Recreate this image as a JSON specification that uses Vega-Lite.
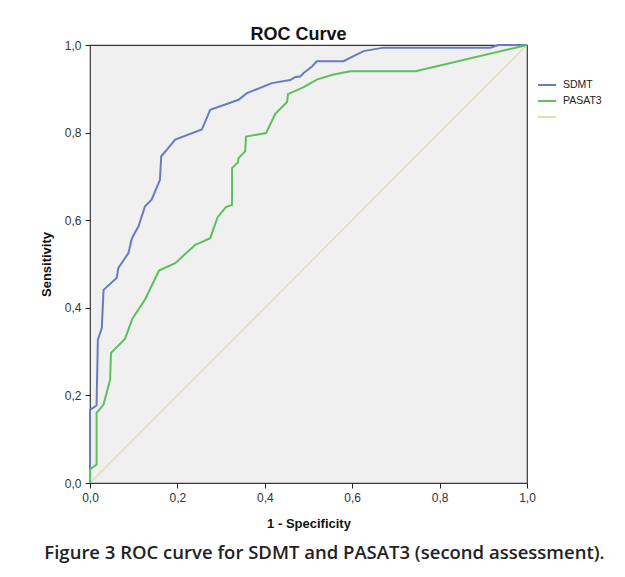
{
  "$schema": "https://vega.github.io/schema/vega-lite/v6.json",
  "width": 437,
  "height": 438,
  "autosize": "none",
  "padding": {"left": 90, "top": 45, "right": 98, "bottom": 94},
  "background": "white",
  "title": {
    "text": "Figure 3 ROC curve for SDMT and PASAT3 (second assessment).",
    "orient": "bottom",
    "anchor": "middle",
    "font": "Open Sans",
    "fontSize": 18.5,
    "fontWeight": 600,
    "color": "#222",
    "offset": 14,
    "dx": 16
  },
  "config": {
    "view": {"fill": "#f0f0f0", "stroke": "#3a3a3a", "strokeWidth": 1.2},
    "axis": {
      "labelFont": "Liberation Sans",
      "titleFont": "Liberation Sans",
      "labelFontSize": 12,
      "labelColor": "#333",
      "titleColor": "#111",
      "domainColor": "#222",
      "tickColor": "#222",
      "tickSize": 5,
      "grid": false,
      "labelFlush": false
    },
    "legend": {"labelFont": "Liberation Sans"}
  },
  "data": {
    "values": [
      {"test": "SDMT", "step": 0, "fpr": 0, "tpr": 0},
      {"test": "SDMT", "step": 1, "fpr": 0, "tpr": 0.167},
      {"test": "SDMT", "step": 2, "fpr": 0.015, "tpr": 0.177},
      {"test": "SDMT", "step": 3, "fpr": 0.018, "tpr": 0.327},
      {"test": "SDMT", "step": 4, "fpr": 0.027, "tpr": 0.354},
      {"test": "SDMT", "step": 5, "fpr": 0.031, "tpr": 0.441},
      {"test": "SDMT", "step": 6, "fpr": 0.061, "tpr": 0.468},
      {"test": "SDMT", "step": 7, "fpr": 0.065, "tpr": 0.491},
      {"test": "SDMT", "step": 8, "fpr": 0.088, "tpr": 0.525},
      {"test": "SDMT", "step": 9, "fpr": 0.095, "tpr": 0.555},
      {"test": "SDMT", "step": 10, "fpr": 0.098, "tpr": 0.563},
      {"test": "SDMT", "step": 11, "fpr": 0.111, "tpr": 0.586},
      {"test": "SDMT", "step": 12, "fpr": 0.126, "tpr": 0.632},
      {"test": "SDMT", "step": 13, "fpr": 0.141, "tpr": 0.647},
      {"test": "SDMT", "step": 14, "fpr": 0.160, "tpr": 0.692},
      {"test": "SDMT", "step": 15, "fpr": 0.163, "tpr": 0.746},
      {"test": "SDMT", "step": 16, "fpr": 0.176, "tpr": 0.761},
      {"test": "SDMT", "step": 17, "fpr": 0.195, "tpr": 0.784},
      {"test": "SDMT", "step": 18, "fpr": 0.256, "tpr": 0.807},
      {"test": "SDMT", "step": 19, "fpr": 0.275, "tpr": 0.852},
      {"test": "SDMT", "step": 20, "fpr": 0.340, "tpr": 0.875},
      {"test": "SDMT", "step": 21, "fpr": 0.359, "tpr": 0.890},
      {"test": "SDMT", "step": 22, "fpr": 0.416, "tpr": 0.913},
      {"test": "SDMT", "step": 23, "fpr": 0.458, "tpr": 0.920},
      {"test": "SDMT", "step": 24, "fpr": 0.470, "tpr": 0.927},
      {"test": "SDMT", "step": 25, "fpr": 0.481, "tpr": 0.928},
      {"test": "SDMT", "step": 26, "fpr": 0.489, "tpr": 0.936},
      {"test": "SDMT", "step": 27, "fpr": 0.508, "tpr": 0.951},
      {"test": "SDMT", "step": 28, "fpr": 0.519, "tpr": 0.963},
      {"test": "SDMT", "step": 29, "fpr": 0.580, "tpr": 0.963},
      {"test": "SDMT", "step": 30, "fpr": 0.626, "tpr": 0.986},
      {"test": "SDMT", "step": 31, "fpr": 0.672, "tpr": 0.994},
      {"test": "SDMT", "step": 32, "fpr": 0.916, "tpr": 0.994},
      {"test": "SDMT", "step": 33, "fpr": 0.935, "tpr": 1.0},
      {"test": "SDMT", "step": 34, "fpr": 1.0, "tpr": 1.0},
      {"test": "PASAT3", "step": 0, "fpr": 0, "tpr": 0},
      {"test": "PASAT3", "step": 1, "fpr": 0, "tpr": 0.031},
      {"test": "PASAT3", "step": 2, "fpr": 0.015, "tpr": 0.042},
      {"test": "PASAT3", "step": 3, "fpr": 0.015, "tpr": 0.160},
      {"test": "PASAT3", "step": 4, "fpr": 0.031, "tpr": 0.179},
      {"test": "PASAT3", "step": 5, "fpr": 0.046, "tpr": 0.236},
      {"test": "PASAT3", "step": 6, "fpr": 0.048, "tpr": 0.297},
      {"test": "PASAT3", "step": 7, "fpr": 0.080, "tpr": 0.329},
      {"test": "PASAT3", "step": 8, "fpr": 0.097, "tpr": 0.375},
      {"test": "PASAT3", "step": 9, "fpr": 0.126, "tpr": 0.419},
      {"test": "PASAT3", "step": 10, "fpr": 0.158, "tpr": 0.485},
      {"test": "PASAT3", "step": 11, "fpr": 0.195, "tpr": 0.502},
      {"test": "PASAT3", "step": 12, "fpr": 0.241, "tpr": 0.544},
      {"test": "PASAT3", "step": 13, "fpr": 0.275, "tpr": 0.559},
      {"test": "PASAT3", "step": 14, "fpr": 0.292, "tpr": 0.607},
      {"test": "PASAT3", "step": 15, "fpr": 0.311, "tpr": 0.630},
      {"test": "PASAT3", "step": 16, "fpr": 0.325, "tpr": 0.635},
      {"test": "PASAT3", "step": 17, "fpr": 0.325, "tpr": 0.719},
      {"test": "PASAT3", "step": 18, "fpr": 0.338, "tpr": 0.731},
      {"test": "PASAT3", "step": 19, "fpr": 0.340, "tpr": 0.742},
      {"test": "PASAT3", "step": 20, "fpr": 0.355, "tpr": 0.757},
      {"test": "PASAT3", "step": 21, "fpr": 0.357, "tpr": 0.791},
      {"test": "PASAT3", "step": 22, "fpr": 0.403, "tpr": 0.799},
      {"test": "PASAT3", "step": 23, "fpr": 0.424, "tpr": 0.843},
      {"test": "PASAT3", "step": 24, "fpr": 0.451, "tpr": 0.870},
      {"test": "PASAT3", "step": 25, "fpr": 0.453, "tpr": 0.888},
      {"test": "PASAT3", "step": 26, "fpr": 0.489, "tpr": 0.904},
      {"test": "PASAT3", "step": 27, "fpr": 0.519, "tpr": 0.921},
      {"test": "PASAT3", "step": 28, "fpr": 0.555, "tpr": 0.932},
      {"test": "PASAT3", "step": 29, "fpr": 0.596, "tpr": 0.940},
      {"test": "PASAT3", "step": 30, "fpr": 0.745, "tpr": 0.940},
      {"test": "PASAT3", "step": 31, "fpr": 1.0, "tpr": 1.0},
      {"test": " ", "step": 0, "fpr": 0, "tpr": 0},
      {"test": " ", "step": 1, "fpr": 1, "tpr": 1}
    ]
  },
  "layer": [
    {
      "transform": [{"filter": "datum.test === ' '"}],
      "mark": {"type": "line", "strokeWidth": 1.5, "clip": true},
      "encoding": {
        "x": {
          "field": "fpr",
          "type": "quantitative",
          "scale": {"domain": [0, 1], "nice": false, "zero": false},
          "axis": {
            "orient": "top",
            "title": "ROC Curve",
            "titleFontSize": 18,
            "titleFontWeight": "bold",
            "titlePadding": 2,
            "titleX": 208,
            "labels": false,
            "ticks": false,
            "domain": false
          }
        },
        "y": {"field": "tpr", "type": "quantitative", "scale": {"domain": [0, 1], "nice": false}},
        "color": {"field": "test", "type": "nominal"},
        "order": {"field": "step", "type": "quantitative"}
      }
    },
    {
      "transform": [{"filter": "datum.test !== ' '"}],
      "mark": {"type": "line", "strokeWidth": 2},
      "encoding": {
        "x": {
          "field": "fpr",
          "type": "quantitative",
          "scale": {"domain": [0, 1], "nice": false, "zero": false},
          "axis": {
            "orient": "bottom",
            "title": "1 - Specificity",
            "titleFontSize": 13,
            "titleFontWeight": "bold",
            "titlePadding": 14,
            "values": [0, 0.2, 0.4, 0.6, 0.8, 1],
            "format": ".1f",
            "labelExpr": "replace(datum.label, '.', ',')",
            "labelPadding": 4,
            "domain": false
          }
        },
        "y": {
          "field": "tpr",
          "type": "quantitative",
          "scale": {"domain": [0, 1], "nice": false},
          "axis": {
            "title": "Sensitivity",
            "titleFontSize": 13,
            "titleFontWeight": "bold",
            "titlePadding": 11,
            "values": [0, 0.2, 0.4, 0.6, 0.8, 1],
            "format": ".1f",
            "labelExpr": "replace(datum.label, '.', ',')",
            "labelPadding": 4,
            "domain": false
          }
        },
        "color": {
          "field": "test",
          "type": "nominal",
          "scale": {"domain": ["SDMT", "PASAT3", " "], "range": ["#6b7bbf", "#5cc05c", "#e2dcb6"]},
          "legend": {
            "title": null,
            "orient": "none",
            "legendX": 447,
            "legendY": 30,
            "symbolType": "stroke",
            "symbolSize": 324,
            "symbolStrokeWidth": 2,
            "labelFontSize": 10.5,
            "labelColor": "#222",
            "rowPadding": -3,
            "labelOffset": 6
          }
        },
        "order": {"field": "step", "type": "quantitative"}
      }
    }
  ],
  "resolve": {"scale": {"x": "independent"}}
}
